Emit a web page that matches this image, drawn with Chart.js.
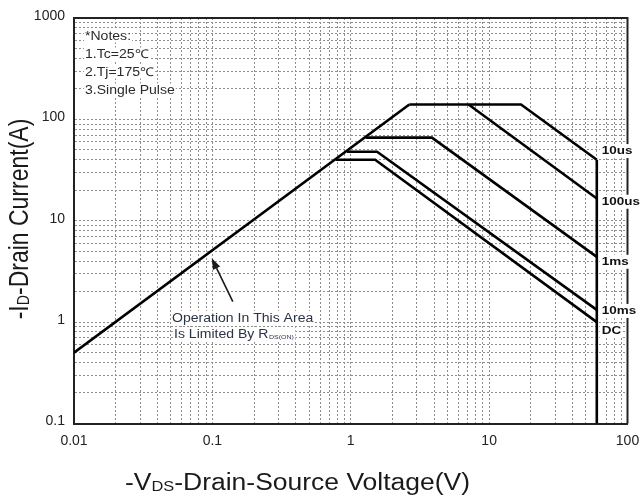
<!DOCTYPE html>
<html>
<head>
<meta charset="utf-8">
<script src="https://cdn.jsdelivr.net/npm/chart.js@4"></script>
<style>
html,body{margin:0;padding:0;background:#fff;}
canvas{display:block;}
</style>
</head>
<body>
<canvas id="c" width="641" height="500"></canvas>
<script>
// ---- data ----
const xTickLabels = ['0.01', '0.1', '1', '10', '100'];
const yTickLabels = ['0.1', '1', '10', '100', '1000'];
const seriesNames = ['10us', '100us', '1ms', '10ms', 'DC'];

const rdsV   = [0.01, 2.65];
const rdsI   = [0.5, 140];
const us10V  = [2.65, 17, 60];
const us10I  = [140, 140, 40];
const us100V = [7.1, 60];
const us100I = [140, 16.6];
const ms1V   = [1.28, 3.86, 60];
const ms1I   = [66, 66, 4.4];
const ms10V  = [0.94, 1.55, 60];
const ms10I  = [48, 48, 1.32];
const dcV    = [0.78, 1.5, 60];
const dcI    = [40, 40, 1.0];
const vmaxV  = [60, 60];
const vmaxI  = [40, 0.1];

// label anchor currents for curve names (at the right side)
const nameI = [48.7, 15.4, 3.94, 1.29, 0.817];

const FONT = '"Liberation Sans", Arial, sans-serif';
const SX = 1.17; // horizontal stretch of text in the reference

function pts(xs, ys) { return xs.map((x, i) => ({x: x, y: ys[i]})); }
function decadeTicks(labels) {
  const out = [];
  const vals = labels.map(parseFloat);
  for (let k = 0; k < vals.length - 1; k++) {
    for (let m = 1; m <= 9; m++) out.push({value: +(vals[k] * m).toPrecision(6)});
  }
  out.push({value: vals[vals.length - 1]});
  return out;
}
function labelFor(labels, v) {
  const f = labels.find(l => Math.abs(parseFloat(l) - v) / v < 1e-6);
  return f === undefined ? '' : f;
}

const lineStyle = {borderColor: '#000', borderWidth: 2.6, pointRadius: 0, showLine: true, fill: false, tension: 0};
const datasets = [
  Object.assign({label: 'Rds', data: pts(rdsV, rdsI)}, lineStyle),
  Object.assign({label: seriesNames[0], data: pts(us10V, us10I)}, lineStyle),
  Object.assign({label: seriesNames[1], data: pts(us100V, us100I)}, lineStyle),
  Object.assign({label: seriesNames[2], data: pts(ms1V, ms1I)}, lineStyle),
  Object.assign({label: seriesNames[3], data: pts(ms10V, ms10I)}, lineStyle),
  Object.assign({label: seriesNames[4], data: pts(dcV, dcI)}, lineStyle),
  Object.assign({label: 'Vmax', data: pts(vmaxV, vmaxI)}, lineStyle)
];

function stretchText(ctx, text, x, y, sx) {
  ctx.save(); ctx.translate(x, y); ctx.scale(sx, 1); ctx.fillText(text, 0, 0); ctx.restore();
}
function richWidth(ctx, parts, size, weight) {
  let w = 0;
  for (const p of parts) {
    ctx.font = (weight || '') + ' ' + (p.sub ? size * p.sub : size) + 'px ' + FONT;
    w += ctx.measureText(p.t).width;
  }
  return w;
}
function drawRichLocal(ctx, parts, size, dySub) {
  let cx = 0;
  for (const p of parts) {
    ctx.font = (p.sub ? size * p.sub : size) + 'px ' + FONT;
    ctx.fillText(p.t, cx, p.sub ? dySub : 0);
    cx += ctx.measureText(p.t).width;
  }
}

const overlay = {
  id: 'overlay',
  afterDraw(chart) {
    const ctx = chart.ctx;
    const a = chart.chartArea;
    const xs = chart.scales.x, ys = chart.scales.y;
    // top and right frame
    ctx.save();
    ctx.strokeStyle = '#222'; ctx.lineWidth = 2;
    ctx.beginPath();
    ctx.moveTo(a.left, a.top); ctx.lineTo(a.right, a.top); ctx.lineTo(a.right, a.bottom);
    ctx.stroke();
    ctx.restore();

    // notes
    ctx.save();
    ctx.textBaseline = 'alphabetic';
    ctx.font = '12px ' + FONT;
    const notes = ['*Notes:', '1.Tc=25\u2103', '2.Tj=175\u2103', '3.Single Pulse'];
    notes.forEach((t, i) => {
      const w = ctx.measureText(t).width * SX;
      const bx = a.left + 11, by = 39.5 + i * 18;
      ctx.fillStyle = '#fff';
      ctx.fillRect(bx - 1, by - 10, w + 2, 13);
      ctx.fillStyle = '#2a2a2a';
      stretchText(ctx, t, bx, by, SX);
    });
    ctx.restore();

    // curve names at right
    ctx.save();
    ctx.font = 'bold 11.5px ' + FONT;
    ctx.textBaseline = 'middle';
    const vx = xs.getPixelForValue(60);
    seriesNames.forEach((n, i) => {
      const y = ys.getPixelForValue(nameI[i]);
      const w = ctx.measureText(n).width * SX;
      ctx.fillStyle = '#fff';
      ctx.fillRect(vx + 3, y - 7, w + 3, 14);
      ctx.fillStyle = '#111';
      stretchText(ctx, n, vx + 5, y, SX);
    });
    ctx.restore();

    // annotation with arrow
    ctx.save();
    const tipX = xs.getPixelForValue(0.099), tipY = ys.getPixelForValue(4.26);
    const tailX = xs.getPixelForValue(0.1405), tailY = ys.getPixelForValue(1.59);
    ctx.strokeStyle = '#1a1a1a'; ctx.fillStyle = '#1a1a1a'; ctx.lineWidth = 1.6;
    const ang = Math.atan2(tipY - tailY, tipX - tailX);
    const hl = 11, hw = 4;
    const bxp = tipX - hl * Math.cos(ang), byp = tipY - hl * Math.sin(ang);
    ctx.beginPath(); ctx.moveTo(tailX, tailY); ctx.lineTo(bxp, byp); ctx.stroke();
    ctx.beginPath();
    ctx.moveTo(tipX, tipY);
    ctx.lineTo(bxp + hw * Math.sin(ang), byp - hw * Math.cos(ang));
    ctx.lineTo(bxp - hw * Math.sin(ang), byp + hw * Math.cos(ang));
    ctx.closePath(); ctx.fill();

    ctx.font = '12px ' + FONT;
    const t1 = 'Operation In This Area';
    const w1 = ctx.measureText(t1).width * SX;
    ctx.fillStyle = '#fff';
    ctx.fillRect(171, 311, w1 + 2, 13);
    ctx.fillStyle = '#2b3346';
    stretchText(ctx, t1, 172, 321.5, SX);
    const t2 = 'Is Limited By R';
    const w2 = ctx.measureText(t2).width * SX;
    ctx.font = '6px ' + FONT;
    const w3 = ctx.measureText('DS(ON)').width * SX;
    ctx.fillStyle = '#fff';
    ctx.fillRect(173, 327, w2 + w3 + 3, 13);
    ctx.fillStyle = '#2b3346';
    ctx.font = '12px ' + FONT;
    stretchText(ctx, t2, 174, 337.5, SX);
    ctx.font = '6px ' + FONT;
    stretchText(ctx, 'DS(ON)', 174 + w2 + 0.5, 338.5, SX);
    ctx.restore();

    // axis titles
    ctx.save();
    ctx.fillStyle = '#1a1a1a';
    ctx.textBaseline = 'alphabetic';
    const xParts = [{t: '-V'}, {t: 'DS', sub: 0.62}, {t: '-Drain-Source Voltage(V)'}];
    const xw = richWidth(ctx, xParts, 23);
    const xsx = 345 / xw;
    ctx.translate(125, 489.5); ctx.scale(xsx, 1);
    drawRichLocal(ctx, xParts, 23, 1);
    ctx.restore();

    ctx.save();
    ctx.fillStyle = '#1a1a1a';
    ctx.textBaseline = 'alphabetic';
    const yParts = [{t: '-I'}, {t: 'D', sub: 0.62}, {t: '-Drain Current(A)'}];
    const yw = richWidth(ctx, yParts, 23);
    ctx.translate(28, 219); ctx.rotate(-Math.PI / 2); ctx.scale(1, SX);
    ctx.translate(-yw / 2, 0);
    drawRichLocal(ctx, yParts, 23, 1);
    ctx.restore();
  }
};

new Chart(document.getElementById('c'), {
  type: 'scatter',
  data: {datasets: datasets},
  plugins: [overlay],
  options: {
    responsive: false,
    animation: false,
    devicePixelRatio: 1,
    layout: {padding: {top: 18, right: 13.5, left: 0, bottom: 0}},
    plugins: {legend: {display: false}, tooltip: {enabled: false}},
    scales: {
      x: {
        type: 'logarithmic', position: 'bottom', min: 0.01, max: 100,
        afterBuildTicks: s => { s.ticks = decadeTicks(xTickLabels); },
        afterFit: s => { s.height = 76.5; s.paddingLeft = 0; s.paddingRight = 0; },
        grid: {color: '#8e8e8e', lineWidth: 1, drawTicks: false},
        border: {display: true, color: '#222', width: 2, dash: [2, 2]},
        ticks: {
          autoSkip: false, maxRotation: 0, padding: 9, color: '#222',
          font: {family: FONT, size: 14},
          callback: v => labelFor(xTickLabels, v)
        }
      },
      y: {
        type: 'logarithmic', position: 'left', min: 0.1, max: 1000,
        afterBuildTicks: s => { s.ticks = decadeTicks(yTickLabels); },
        afterFit: s => { s.width = 74; s.paddingTop = 0; s.paddingBottom = 0; },
        grid: {color: '#8e8e8e', lineWidth: 1, drawTicks: false},
        border: {display: true, color: '#222', width: 2, dash: [2, 2]},
        ticks: {
          autoSkip: false, padding: 9, labelOffset: -2, color: '#222',
          font: {family: FONT, size: 14},
          callback: v => labelFor(yTickLabels, v)
        }
      }
    }
  }
});
</script>
</body>
</html>
